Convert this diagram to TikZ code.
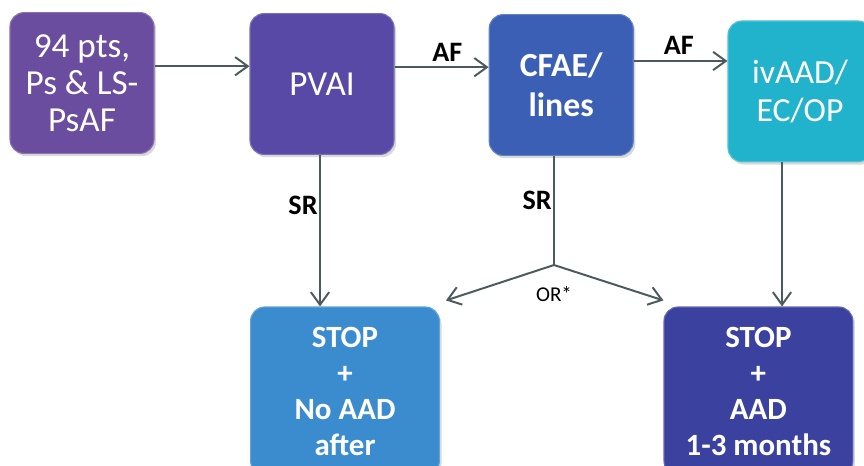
\documentclass[tikz,border=0pt]{standalone}
\usepackage{fontspec}
\setmainfont{Carlito}
\usepackage{xcolor}
\definecolor{violetbox}{HTML}{6A4D9E}
\definecolor{indigobox}{HTML}{5849A6}
\definecolor{bluebox}{HTML}{3A5FB4}
\definecolor{cyanbox}{HTML}{22B3CC}
\definecolor{skybox}{HTML}{3A8CCF}
\definecolor{navybox}{HTML}{3B419E}
\definecolor{linegray}{HTML}{4B5A5C}
\usetikzlibrary{arrows.meta, shadows, calc}

\begin{document}
\begin{tikzpicture}[
  box/.style={rectangle, rounded corners=10pt, draw=#1!80!white, line width=0.8pt,
              fill=#1, text=white, align=center, minimum width=3.6cm,
              minimum height=3.52cm, inner sep=2pt,
              font=\fontsize{25}{26.5}\selectfont,
              drop shadow={opacity=0.3, shadow xshift=1.5pt, shadow yshift=-2pt}},
  stopbox/.style={box=#1, minimum width=4.72cm, minimum height=4.2cm,
              font=\fontsize{22}{25.6}\selectfont\bfseries},
  arr/.style={-{Straight Barb[length=9pt,width=13pt,line width=1.4pt]},
              line width=1.4pt, linegray},
  lbl/.style={font=\fontsize{20}{22}\selectfont\bfseries, text=black, inner sep=1pt}
]
  \useasboundingbox (0,0) rectangle (21.6,11.625);
  \clip (0,0) rectangle (21.6,11.625);

  % top row
  \node[box=violetbox] (pts) at (2.05,9.55) {94 pts,\\Ps \& LS-\\PsAF};
  \node[box=indigobox] (pvai) at (8.05,9.525) {PVAI};
  \node[box=bluebox, font=\fontsize{24}{28.5}\selectfont\bfseries] (cfae) at (14.03,9.5) {CFAE/\\lines};
  \node[box=cyanbox, font=\fontsize{24}{26.5}\selectfont] (ivaad) at (20.0,9.34) {ivAAD/\\EC/OP};

  % bottom row
  \node[stopbox=skybox] (stopa) at (8.625,1.85) {STOP\\+\\No AAD\\after};
  \node[stopbox=navybox] (stopb) at (18.96,1.85) {STOP\\+\\AAD\\1-3 months};

  \coordinate (split) at (13.85,5.0);

  \draw[arr] ([yshift=0.42cm]pts.east) -- ([yshift=0.42cm]pts.east -| pvai.west);
  \draw[arr] ([yshift=0.42cm]pvai.east) -- ([yshift=0.42cm]pvai.east -| cfae.west)
    node[lbl, pos=0.56, above=2pt] {AF};
  \draw[arr] ([yshift=0.6cm]cfae.east) -- ([yshift=0.6cm]cfae.east -| ivaad.west)
    node[lbl, pos=0.48, above=3pt] {AF};

  \draw[arr] ([xshift=-0.05cm]pvai.south) -- ([xshift=-0.05cm]pvai.south |- stopa.north)
    node[lbl, pos=0.33, left] {SR};
  \draw[line width=1.4pt, linegray] (cfae.south -| split) -- (split)
    node[lbl, pos=0.41, left] {SR};
  \draw[arr] (split) -- ([shift={(0.15,0.15)}]stopa.north east);
  \draw[arr] (split) -- ([shift={(0,0.15)}]stopb.north west);
  \node[font=\fontsize{15}{17}\selectfont, inner sep=0pt] (or) at ([yshift=-0.72cm]split) {OR*};
  \draw[arr] ([xshift=-0.45cm]ivaad.south) -- ([xshift=-0.45cm]ivaad.south |- stopb.north);
\end{tikzpicture}
\end{document}
